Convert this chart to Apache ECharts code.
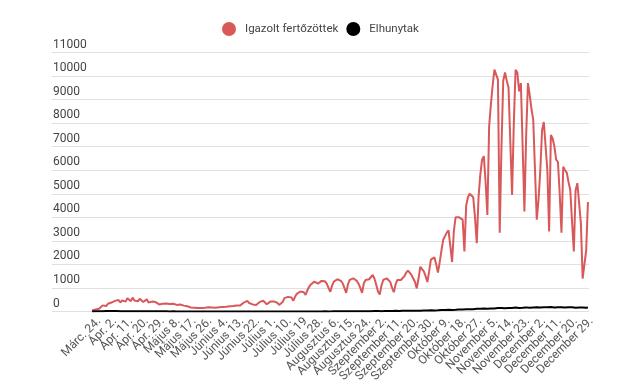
<!DOCTYPE html>
<html><head><meta charset="utf-8">
<script src="https://cdn.jsdelivr.net/npm/echarts@6/dist/echarts.min.js"></script>
<style>html,body{margin:0;padding:0;background:#fff}#c{width:618px;height:385px}</style>
</head><body><div id="c"></div>
<script>
const seriesNames = ['Igazolt fertőzöttek', 'Elhunytak'];
const tickLabels = ['Márc. 24.', 'Ápr. 2.', 'Ápr. 11.', 'Ápr. 20.', 'Ápr. 29.', 'Május 8.', 'Május 17.', 'Május 26.',
  'Június 4.', 'Június 13.', 'Június 22.', 'Július 1.', 'Július 10.', 'Július 19', 'Július 28.', 'Augusztus 6.',
  'Augusztus 15.', 'Augusztus 24.', 'Szeptember 2.', 'Szeptember 11.', 'Szeptember 20.', 'Szeptember 30.',
  'Október 9.', 'Október 18.', 'Október 27.', 'November 5.', 'November 14.', 'November 23.', 'December 2.',
  'December 11.', 'December 20.', 'December 29.'];
const labelStep = 9;
const cases = [
  40,70,90,150,120,200,260,280,230,330,
  300,380,350,450,400,490,380,470,520,420,
  560,480,440,590,470,520,430,540,490,400,
  470,520,380,450,420,340,400,360,300,380,
  330,280,340,300,320,260,330,360,280,250,
  300,230,250,200,220,190,170,210,160,180,
  150,170,150,130,160,140,180,150,170,200,
  160,200,180,220,190,230,200,260,220,250,
  230,280,250,300,260,330,380,340,450,360,
  330,300,260,280,350,400,430,460,380,310,
  380,420,460,430,400,370,280,200,400,570,
  520,620,700,600,450,620,750,800,850,910,
  820,700,900,1050,1150,1200,1270,1220,1180,1250,
  1300,1340,1280,1180,1000,840,1100,1270,1320,1370,
  1370,1300,1200,1000,790,1150,1340,1380,1410,1400,
  1300,1180,1000,790,1200,1340,1360,1370,1450,1550,
  1400,1150,850,720,1100,1340,1380,1410,1350,1250,
  1000,820,1150,1340,1340,1340,1340,1500,1650,1740,
  1650,1550,1480,1250,980,1400,1900,1800,1700,1500,
  1250,1700,2200,2250,2300,2000,1650,2100,2600,3050,
  3200,3350,3450,2800,2100,3400,4000,4000,4000,3950,
  3900,2550,4500,4850,5000,5050,4850,4000,2900,4850,
  5800,6450,6600,5500,4100,7850,8800,9600,10270,10200,
  9850,3350,7000,9800,10150,9800,9500,9450,4950,8000,
  10270,10150,9350,9700,7000,4250,7500,9700,9200,8600,
  8150,6000,3900,4750,6000,7700,8050,8000,6000,3400,
  7500,7350,7000,6450,6350,5000,3350,6150,6000,5900,
  5500,5150,3800,2550,5150,5450,4600,3750,1400,2000,
  2600,4650
];
const deaths = [
  5,8,10,12,10,14,12,15,18,16,
  20,15,18,22,16,20,14,18,12,16,
  15,18,12,14,10,12,14,10,12,8,
  10,12,8,9,11,7,9,10,6,8,
  7,5,8,6,5,4,6,5,4,5,
  3,4,2,3,4,2,3,2,1,2,
  1,2,1,0,1,2,1,0,1,1,
  0,1,2,1,0,1,1,0,1,2,
  1,0,1,1,2,1,0,1,1,2,
  1,1,2,1,0,1,2,1,1,2,
  1,2,1,1,2,1,1,0,1,2,
  1,2,2,1,3,2,1,2,3,2,
  3,2,4,3,2,4,5,3,4,6,
  5,4,6,8,5,7,6,9,8,10,
  8,11,9,12,10,14,12,11,13,10,
  14,12,15,13,11,16,14,17,15,13,
  18,16,20,17,15,22,19,24,21,18,
  25,22,28,24,20,27,30,26,32,28,
  34,30,36,33,29,38,35,40,42,37,
  45,41,48,52,46,55,50,58,62,54,
  65,60,70,74,66,78,72,82,86,79,
  90,85,95,100,92,105,98,110,115,104,
  120,112,125,130,118,135,128,140,132,126,
  145,138,150,142,135,155,148,160,152,144,
  165,158,150,170,162,155,175,168,160,178,
  170,162,180,172,165,185,176,168,182,174,
  188,178,170,190,182,175,185,178,170,183,
  176,168,180,172,160,175,165,158,170,162,
  155,168
];
const yMax = 11000, yStep = 1000;

const xMin = -22.7, xMax = 281.6;
const chart = echarts.init(document.getElementById('c'), null, {renderer: 'canvas'});
const tickIdx = tickLabels.map((_, i) => i * labelStep);
const labelAxis = (vals) => ({
  type: 'value', gridIndex: 1, position: 'bottom', min: xMin, max: xMax,
  splitLine: {show: false}, axisLine: {show: false}, axisTick: {show: false},
  axisLabel: {
    customValues: vals, rotate: 45, margin: 8,
    fontFamily: 'Roboto', fontSize: 12, color: '#555',
    formatter: v => tickLabels[Math.round(v / labelStep)] || ''
  }
});
chart.setOption({
  animation: false,
  backgroundColor: '#fff',
  legend: {
    left: 222, top: 22, padding: 0, itemGap: 8,
    itemWidth: 14, itemHeight: 14, icon: 'circle',
    textStyle: {fontFamily: 'Roboto', fontSize: 11.5, color: '#444', padding: [0, 0, 0, 4]},
    data: seriesNames
  },
  grid: [
    {left: 52, right: 29, top: 52.5, bottom: 73.5, containLabel: false, outerBoundsMode: 'none'},
    {left: 59, right: 22, top: 52.5, bottom: 73.5, containLabel: false, outerBoundsMode: 'none'}
  ],
  xAxis: [
    {type: 'value', gridIndex: 0, min: xMin, max: xMax, splitLine: {show: false}, axisLine: {show: false},
      axisTick: {show: false}, axisLabel: {show: false}},
    labelAxis(tickIdx.filter((_, i) => i % 2 === 0)),
    labelAxis(tickIdx.filter((_, i) => i % 2 === 1))
  ],
  yAxis: [
    {type: 'value', gridIndex: 0, min: 0, max: yMax, interval: yStep,
      axisLine: {show: false}, axisTick: {show: false},
      splitLine: {lineStyle: {color: '#e0e0e0', width: 1}},
      axisLabel: {inside: true, margin: 1, verticalAlign: 'bottom', padding: [0, 0, 2, 0],
        fontFamily: 'Roboto', fontSize: 12, color: '#444', formatter: v => String(v)}},
    {type: 'value', gridIndex: 1, min: 0, max: yMax, show: false}
  ],
  series: [
    {name: seriesNames[0], type: 'line', xAxisIndex: 0, yAxisIndex: 0, showSymbol: false, symbol: 'circle', color: '#d9595a',
      lineStyle: {width: 2, color: '#d9595a'}, data: cases.map((v, i) => [i, v]), z: 2},
    {name: seriesNames[1], type: 'line', xAxisIndex: 0, yAxisIndex: 0, showSymbol: false, symbol: 'circle', color: '#000',
      lineStyle: {width: 2, color: '#000'}, data: deaths.map((v, i) => [i, v]), z: 3}
  ]
});
</script></body></html>
